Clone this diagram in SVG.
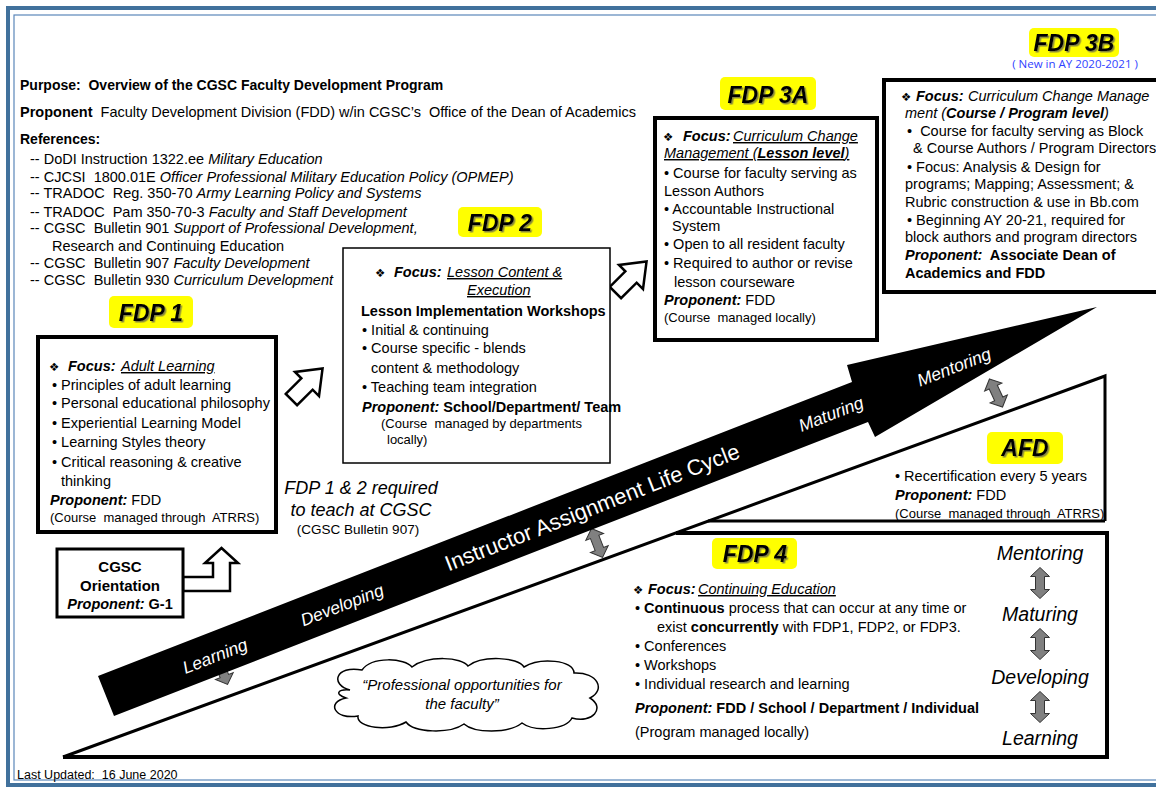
<svg xmlns="http://www.w3.org/2000/svg" width="1156" height="787" viewBox="0 0 1156 787">
<defs>
<style>
.t{font-family:"Liberation Sans",Arial,sans-serif;font-size:14.5px;fill:#000}
.s{font-size:13px}
.b{font-weight:bold}
.i{font-style:italic}
.u{text-decoration:underline}
.lbl{font-family:"Liberation Sans",Arial,sans-serif;font-weight:bold;font-style:italic;font-size:23px;fill:#000;filter:url(#sh)}
.sym{font-family:"DejaVu Sans",sans-serif;font-size:11.5px}
.box{fill:#fff;stroke:#000;stroke-width:4}
.yl{fill:#ffff00}
.ga{fill:#808080;stroke:#333;stroke-width:1}
.wa{fill:#fff;stroke:#000;stroke-width:2.5;stroke-linejoin:miter}
.bt{font-family:"Liberation Sans",Arial,sans-serif;fill:#fff;font-style:italic;font-size:17.5px}
.ln{fill:none;stroke:#000;stroke-linejoin:miter}
.rl{font-family:"Liberation Sans",Arial,sans-serif;font-style:italic;font-size:19.5px;fill:#000}
</style>
<filter id="sh" x="-10%" y="-20%" width="130%" height="150%"><feDropShadow dx="1.5" dy="1.5" stdDeviation="0.6" flood-color="#555" flood-opacity="0.7"/></filter>
<path id="dbl" d="M0,-15.5 L9.5,-6.5 L4.5,-6.5 L4.5,6.5 L9.5,6.5 L0,15.5 L-9.5,6.5 L-4.5,6.5 L-4.5,-6.5 L-9.5,-6.5 Z"/>
<path id="blk" d="M-22,-8 L0,-8 L0,-17 L22,0 L0,17 L0,8 L-22,8 Z"/>
</defs>
<rect x="0" y="0" width="1156" height="787" fill="#fff"/>
<g id="frame">
<rect x="8" y="8" width="1170" height="777" fill="none" stroke="#41719c" stroke-width="4"/>
<rect x="14" y="15" width="1160" height="765" fill="none" stroke="#5b87b9" stroke-width="1.2"/>
</g>

<g id="header">
<text class="t b" x="20" y="90" style="font-size:14px" xml:space="preserve">Purpose:  Overview of the CGSC Faculty Development Program</text>
<text class="t" x="20" y="117" xml:space="preserve"><tspan class="b">Proponent</tspan>  Faculty Development Division (FDD) w/in CGSC’s  Office of the Dean of Academics</text>
<text class="t b" x="20" y="144" style="font-size:14px">References:</text>
<text class="t" x="30" y="164">-- DoDI Instruction 1322.ee <tspan class="i">Military Education</tspan></text>
<text class="t" x="30" y="182" xml:space="preserve">-- CJCSI  1800.01E <tspan class="i">Officer Professional Military Education Policy (OPMEP)</tspan></text>
<text class="t" x="30" y="198" xml:space="preserve">-- TRADOC  Reg. 350-70 <tspan class="i">Army Learning Policy and Systems</tspan></text>
<text class="t" x="30" y="217" xml:space="preserve">-- TRADOC  Pam 350-70-3 <tspan class="i">Faculty and Staff Development</tspan></text>
<text class="t" x="30" y="233" xml:space="preserve">-- CGSC  Bulletin 901 <tspan class="i">Support of Professional Development,</tspan></text>
<text class="t" x="52" y="251">Research and Continuing Education</text>
<text class="t" x="30" y="268" xml:space="preserve">-- CGSC  Bulletin 907 <tspan class="i">Faculty Development</tspan></text>
<text class="t" x="30" y="285" xml:space="preserve">-- CGSC  Bulletin 930 <tspan class="i">Curriculum Development</tspan></text>
</g>

<g id="triangle">
<polyline class="ln" points="63,757 1105,376 1105,521" stroke-width="3"/>
<line class="ln" x1="708" y1="521" x2="1105" y2="521" stroke-width="3"/>
<polyline class="ln" points="676,533 1107,533 1107,757 63,757" stroke-width="4"/>
</g>

<g id="connectors">
<use href="#dbl" class="ga" transform="translate(222,670) rotate(-21)"/>
<use href="#dbl" class="ga" transform="translate(597,543) rotate(-21)"/>
<use href="#dbl" class="ga" transform="translate(996,393) rotate(-25)"/>
<use href="#dbl" class="ga" transform="translate(1040,583)"/>
<use href="#dbl" class="ga" transform="translate(1040,644)"/>
<use href="#dbl" class="ga" transform="translate(1040,707)"/>
<use href="#blk" class="wa" transform="translate(307,384) rotate(-45)"/>
<use href="#blk" class="wa" transform="translate(631,277) rotate(-45)"/>
<path class="wa" d="M183,577 L213,577 L213,563 L205,563 L221.5,548 L238,563 L230,563 L230,591 L183,591 Z"/>
</g>

<g id="lifecycle">
<polygon points="98,676 852,382 847,365 1097,307 875,437 868,422 114,716" fill="#000"/>
<text class="bt" transform="translate(215,656) rotate(-21.3)" x="0" y="6" text-anchor="middle">Learning</text>
<text class="bt" transform="translate(342,605) rotate(-21.3)" x="0" y="6" text-anchor="middle">Developing</text>
<text class="bt" transform="translate(592,507) rotate(-21.3)" x="0" y="8" text-anchor="middle" style="font-style:normal;font-size:22px">Instructor Assignment Life Cycle</text>
<text class="bt" transform="translate(831,414) rotate(-21.3)" x="0" y="6" text-anchor="middle">Maturing</text>
<text class="bt" transform="translate(954,367) rotate(-21.3)" x="0" y="6" text-anchor="middle">Mentoring</text>
</g>

<g id="fdp1">
<rect class="yl" x="109" y="296" width="84" height="32" rx="5"/>
<text class="lbl" x="151" y="321" text-anchor="middle">FDP 1</text>
<rect class="box" x="38" y="337" width="238" height="195"/>
<text class="t" y="371"><tspan class="sym" x="49">❖</tspan><tspan class="b i" x="68">Focus:</tspan><tspan class="i u" x="121">Adult Learning</tspan></text>
<text class="t" x="52" y="390">• Principles of adult learning</text>
<text class="t" x="52" y="408">• Personal educational philosophy</text>
<text class="t" x="52" y="428">• Experiential Learning Model</text>
<text class="t" x="52" y="447">• Learning Styles theory</text>
<text class="t" x="52" y="467">• Critical reasoning &amp; creative</text>
<text class="t" x="61" y="486">thinking</text>
<text class="t" x="50" y="505"><tspan class="b i">Proponent:</tspan> FDD</text>
<text class="t s" x="50" y="522" xml:space="preserve">(Course  managed through  ATRRS)</text>
</g>

<g id="fdp12note">
<text class="t i" x="361" y="494" text-anchor="middle" style="font-size:18px">FDP 1 &amp; 2 required</text>
<text class="t i" x="361" y="516" text-anchor="middle" style="font-size:18px">to teach at CGSC</text>
<text class="t" x="358" y="534" text-anchor="middle" style="font-size:13.5px">(CGSC Bulletin 907)</text>
</g>

<g id="orientation">
<rect x="57" y="549" width="126" height="68" fill="#fff" stroke="#000" stroke-width="3"/>
<text class="t b" x="120" y="572" text-anchor="middle" style="font-size:15px">CGSC</text>
<text class="t b" x="120" y="591" text-anchor="middle" style="font-size:15px">Orientation</text>
<text class="t b" x="120" y="609" text-anchor="middle" style="font-size:14.5px"><tspan class="i">Proponent:</tspan> G-1</text>
</g>

<g id="fdp2">
<rect class="yl" x="458" y="207" width="84" height="30" rx="5"/>
<text class="lbl" x="500" y="231" text-anchor="middle">FDP 2</text>
<rect x="343" y="248" width="267" height="215" fill="#fff" stroke="#000" stroke-width="1.5"/>
<text class="t" y="277"><tspan class="sym" x="375">❖</tspan><tspan class="b i" x="394">Focus:</tspan><tspan class="i u" x="447">Lesson Content &amp;</tspan></text>
<text class="t i u" x="467" y="295">Execution</text>
<text class="t b" x="361" y="316">Lesson Implementation Workshops</text>
<text class="t" x="362" y="335">• Initial &amp; continuing</text>
<text class="t" x="362" y="353">• Course specific - blends</text>
<text class="t" x="371" y="373">content &amp; methodology</text>
<text class="t" x="362" y="392">• Teaching team integration</text>
<text class="t b" x="362" y="412"><tspan class="i">Proponent:</tspan> School/Department/ Team</text>
<text class="t s" x="381" y="428" xml:space="preserve">(Course  managed by departments</text>
<text class="t s" x="387" y="444">locally)</text>
</g>

<g id="fdp3a">
<rect class="yl" x="720" y="77" width="96" height="33" rx="5"/>
<text class="lbl" x="768" y="103" text-anchor="middle">FDP 3A</text>
<rect class="box" x="655" y="118" width="222" height="222"/>
<text class="t" y="141"><tspan class="sym" x="663">❖</tspan><tspan class="b i" x="683">Focus:</tspan><tspan class="i u" x="733">Curriculum Change</tspan></text>
<text class="t i u" x="664" y="158">Management (<tspan class="b">Lesson level</tspan>)</text>
<text class="t" x="664" y="178">• Course for faculty serving as</text>
<text class="t" x="664" y="196">Lesson Authors</text>
<text class="t" x="664" y="214">• Accountable Instructional</text>
<text class="t" x="672" y="231">System</text>
<text class="t" x="664" y="249">• Open to all resident faculty</text>
<text class="t" x="664" y="268">• Required to author or revise</text>
<text class="t" x="674" y="287">lesson courseware</text>
<text class="t" x="664" y="305"><tspan class="b i">Proponent:</tspan> FDD</text>
<text class="t s" x="664" y="322" xml:space="preserve">(Course  managed locally)</text>
</g>

<g id="fdp3b">
<rect class="yl" x="1029" y="28" width="90" height="29" rx="5"/>
<text class="lbl" x="1074" y="51" text-anchor="middle">FDP 3B</text>
<text x="1075" y="68" text-anchor="middle" style="font-family:'Open Sans','Liberation Sans',sans-serif;font-size:11.5px;fill:#2f3fff">( New in AY 2020-2021 )</text>
<rect class="box" x="884" y="80" width="290" height="212"/>
<text class="t" y="101"><tspan class="sym" x="901">❖</tspan><tspan class="b i" x="916">Focus:</tspan><tspan class="i" x="968">Curriculum Change Manage</tspan></text>
<text class="t i" x="905" y="118">ment (<tspan class="b">Course / Program level</tspan>)</text>
<text class="t" x="907" y="136" xml:space="preserve">•  Course for faculty serving as Block</text>
<text class="t" x="913" y="153">&amp; Course Authors / Program Directors</text>
<text class="t" x="907" y="172">• Focus: Analysis &amp; Design for</text>
<text class="t" x="905" y="189">programs; Mapping; Assessment; &amp;</text>
<text class="t" x="905" y="207">Rubric construction &amp; use in Bb.com</text>
<text class="t" x="907" y="225">• Beginning AY 20-21, required for</text>
<text class="t" x="905" y="242">block authors and program directors</text>
<text class="t b" x="905" y="260" xml:space="preserve"><tspan class="i">Proponent:</tspan>  Associate Dean of</text>
<text class="t b" x="905" y="278">Academics and FDD</text>
</g>

<g id="afd">
<rect class="yl" x="987" y="432" width="76" height="32" rx="5"/>
<text class="lbl" x="1025" y="456" text-anchor="middle">AFD</text>
<text class="t" x="895" y="481">• Recertification every 5 years</text>
<text class="t" x="895" y="500"><tspan class="b i">Proponent:</tspan> FDD</text>
<text class="t s" x="895" y="518" xml:space="preserve">(Course  managed through  ATRRS)</text>
</g>

<g id="fdp4">
<rect class="yl" x="712" y="538" width="85" height="31" rx="5"/>
<text class="lbl" x="755" y="562" text-anchor="middle">FDP 4</text>
<text class="t" y="594"><tspan class="sym" x="633">❖</tspan><tspan class="b i" x="648">Focus:</tspan><tspan class="i u" x="698">Continuing Education</tspan></text>
<text class="t" x="635" y="613">• <tspan class="b">Continuous</tspan> process that can occur at any time or</text>
<text class="t" x="657" y="632">exist <tspan class="b">concurrently</tspan> with FDP1, FDP2, or FDP3.</text>
<text class="t" x="635" y="651">• Conferences</text>
<text class="t" x="635" y="670">• Workshops</text>
<text class="t" x="635" y="689">• Individual research and learning</text>
<text class="t b" x="635" y="713"><tspan class="i">Proponent:</tspan> FDD / School / Department / Individual</text>
<text class="t" x="635" y="737">(Program managed locally)</text>
</g>

<g id="stages">
<text class="rl" x="1040" y="560" text-anchor="middle">Mentoring</text>
<text class="rl" x="1040" y="621" text-anchor="middle">Maturing</text>
<text class="rl" x="1040" y="684" text-anchor="middle">Developing</text>
<text class="rl" x="1040" y="745" text-anchor="middle">Learning</text>
</g>

<g id="cloud">
<path d="M350,690 C330,685 335,665 362,670 C372,656 405,658 412,667 C428,655 462,657 468,666 C482,655 518,657 524,667 C540,657 574,660 574,673 C598,672 606,690 590,698 C606,708 592,724 572,718 C566,730 534,732 522,723 C508,734 474,733 464,724 C450,734 414,733 406,722 C390,732 356,728 358,716 C334,720 326,702 346,698 C334,694 338,689 350,690 Z" fill="#fff" stroke="#000" stroke-width="1.5"/>
<text class="t i" x="462" y="690" text-anchor="middle" style="font-size:15px">“Professional opportunities for</text>
<text class="t i" x="462" y="709" text-anchor="middle" style="font-size:15px">the faculty”</text>
</g>

<text class="t" x="17" y="779" style="font-size:12.5px" xml:space="preserve">Last Updated:  16 June 2020</text>
</svg>
